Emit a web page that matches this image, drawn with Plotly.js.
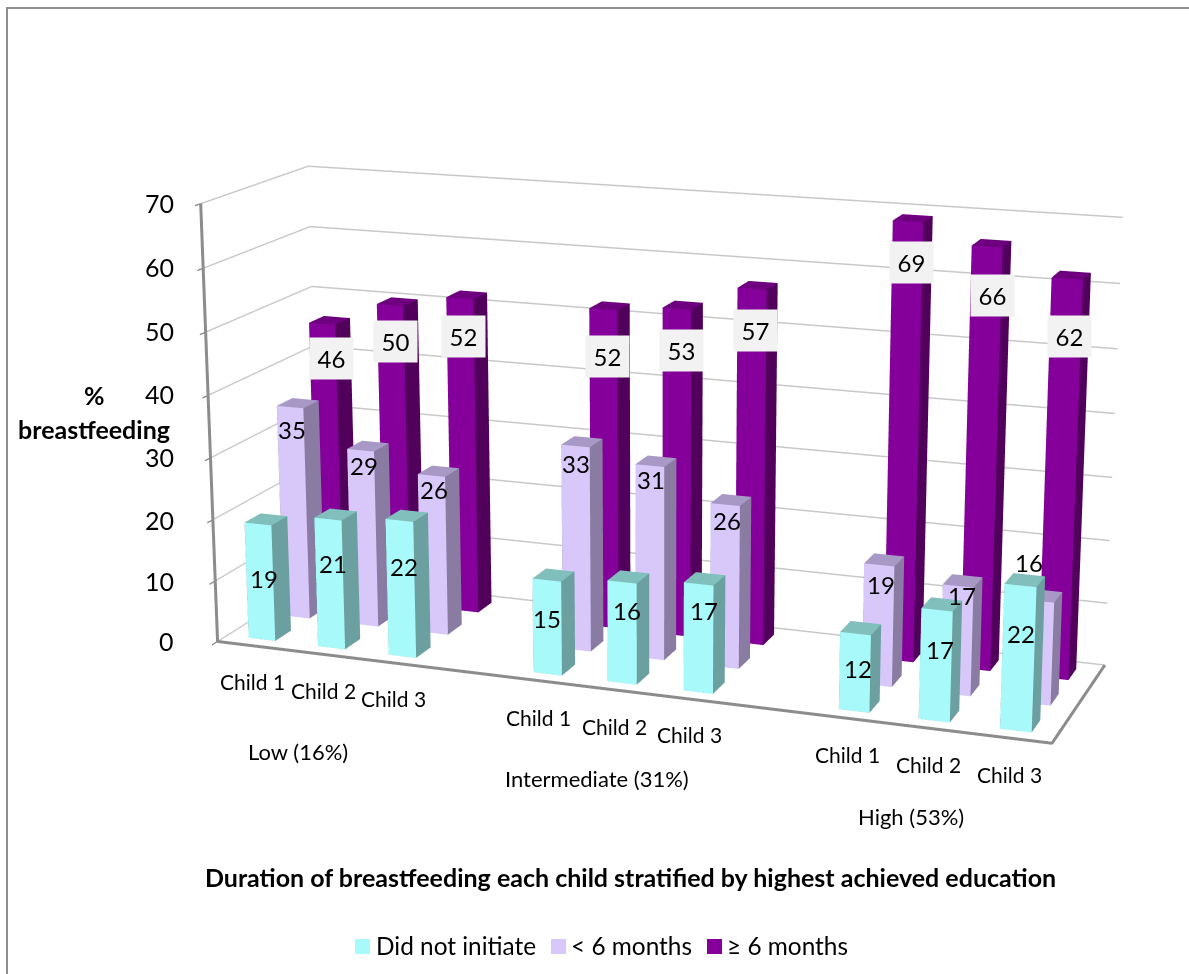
<!DOCTYPE html>
<html>
<head>
<meta charset="utf-8">
<script src="https://cdn.plot.ly/plotly-3.0.1.min.js"></script>
<style>
html, body { margin: 0; padding: 0; width: 1189px; height: 974px; overflow: hidden; background: #fff; }
#stage { position: absolute; }
</style>
</head>
<body>
<div id="stage"></div>
<script>
// Breastfeeding duration per child, grouped by the mother's highest education.
const childLabels = ["Child 1", "Child 2", "Child 3"];
const groupLabels = ["Low (16%)", "Intermediate (31%)", "High (53%)"];
const seriesNames = ["Did not initiate", "< 6 months", "≥ 6 months"];
const didNotInitiate = [19, 21, 22, 15, 16, 17, 12, 17, 22];
const under6Months = [35, 29, 26, 33, 31, 26, 19, 17, 16];
const over6Months = [46, 50, 52, 52, 53, 57, 69, 66, 62];
const zTicks = [0, 10, 20, 30, 40, 50, 60, 70];

// Category slot of each bar: a blank slot separates the education groups.
const slots = [0, 1, 2, 4, 5, 6, 8, 9, 10];
const slotCount = 11, depthCount = 3;
const barWidth = 0.385, barDepth = 0.45;

// Page geometry: the scene is larger than the page for a long lens.
const STAGE = 2500, VIEW_X = 656, VIEW_Y = 436;
const left = VIEW_X - STAGE / 2, top_ = VIEW_Y - STAGE / 2;
const stage = document.getElementById("stage");
stage.style.left = left + "px";
stage.style.top = top_ + "px";
const px = x => (x - left) / STAGE;
const py = y => 1 - (y - top_) / STAGE;

const palette = [
  { front: "#A8FAFA", side: "#6C9FA0", top: "#80BFBC" },
  { front: "#D8C8FA", side: "#8A7BA2", top: "#A898C6" },
  { front: "#85009A", side: "#51005C", top: "#6E0080" }
];

function barMesh(values, depth, colors, name) {
  const xs = [], ys = [], zs = [], i = [], j = [], k = [], facecolor = [];
  values.forEach((v, n) => {
    const x0 = slots[n] + (1 - barWidth) / 2, x1 = x0 + barWidth;
    const y0 = depth + (1 - barDepth) / 2, y1 = y0 + barDepth;
    const b = xs.length;
    [[x0, y0, 0], [x1, y0, 0], [x1, y1, 0], [x0, y1, 0],
     [x0, y0, v], [x1, y0, v], [x1, y1, v], [x0, y1, v]].forEach(p => {
      xs.push(p[0]); ys.push(p[1]); zs.push(p[2]);
    });
    const quad = (a, c, d, e, col) => {
      i.push(b + a, b + a); j.push(b + c, b + d); k.push(b + d, b + e);
      facecolor.push(col, col);
    };
    quad(0, 1, 5, 4, colors.front);
    quad(1, 2, 6, 5, colors.side);
    quad(4, 5, 6, 7, colors.top);
    quad(3, 2, 6, 7, colors.side);
    quad(0, 3, 7, 4, colors.side);
    quad(0, 1, 2, 3, colors.side);
  });
  return {
    type: "mesh3d", name, x: xs, y: ys, z: zs, i, j, k, facecolor,
    flatshading: true, hoverinfo: "skip",
    lighting: { ambient: 1, diffuse: 0, specular: 0, fresnel: 0, roughness: 1 },
    lightposition: { x: 0, y: 0, z: 1000 }
  };
}

const traces = [
  barMesh(didNotInitiate, 0, palette[0], seriesNames[0]),
  barMesh(under6Months, 1, palette[1], seriesNames[1]),
  barMesh(over6Months, 2, palette[2], seriesNames[2]),
  { // front and right floor edges plus the value axis
    type: "scatter3d", mode: "lines", hoverinfo: "skip", showlegend: false,
    x: [0, slotCount, slotCount, null, 0, 0],
    y: [0, 0, depthCount, null, 0, 0],
    z: [0, 0, 0, null, 0, 70],
    line: { color: "#8C8C8C", width: 6 }
  }
];

const textFont = "Lato, Carlito, sans-serif";
const annotations = [];
const place = (x, y, text, size, extra) => annotations.push(Object.assign({
  xref: "paper", yref: "paper", x: px(x), y: py(y), text, showarrow: false,
  xanchor: "center", yanchor: "middle",
  font: { family: textFont, size, color: "#000" }
}, extra || {}));

// Value labels sit where each bar leaves them readable.
const cyanAt = [[264,578],[333,563],[404,566],[547,618],[627,610],[704,610],[858,669],[940,649],[1021,633]];
const lilacAt = [[292,429],[364,465],[434,490],[576,463],[651,480],[727,520],[881,584],[962,595],[1029,562]];
const purpleAt = [[331,358],[395,341],[463,337],[607,356],[681,350],[755,330],[911,262],[992,296],[1069,337]];
didNotInitiate.forEach((v, n) => place(cyanAt[n][0], cyanAt[n][1], String(v), 24));
under6Months.forEach((v, n) => place(lilacAt[n][0], lilacAt[n][1], String(v), 24));
over6Months.forEach((v, n) => place(purpleAt[n][0], purpleAt[n][1], String(v), 24,
  { bgcolor: "#F2F2F2", width: 43, height: 41, borderpad: 0 }));

// Category labels along the front edge.
const childAt = [[252,681],[323,690],[393,698],[538,717],[614,726],[690,734],[847,754],[928,764],[1010,774]];
childAt.forEach((p, n) => place(p[0], p[1], childLabels[n % 3], 21));
const groupAt = [[298,751],[597,778],[911,816]];
groupAt.forEach((p, n) => place(p[0], p[1], groupLabels[n], 22));

// Value axis labels.
const tickAt = [641, 581, 520, 457, 394, 331, 267, 203];
zTicks.forEach((v, n) => place(176, tickAt[n], String(v), 25, { xanchor: "right" }));

place(94, 395, "<b>%</b>", 25);
place(94, 429, "<b>breastfeeding</b>", 25);
place(630, 877, "<b>Duration of breastfeeding each child stratified by highest achieved education</b>", 25);

// Legend row.
const swatches = [355, 551, 707];
const swatchColors = palette.map(p => p.front);
const legendTextX = [374, 569, 725];
const shapes = swatches.map((x, n) => ({
  type: "rect", xref: "paper", yref: "paper", layer: "above",
  x0: px(x), x1: px(x + 15), y0: py(939), y1: py(954),
  fillcolor: swatchColors[n], line: { width: 0 }
}));
seriesNames.forEach((s, n) => place(legendTextX[n], 945, s.replace("<", "&lt;"), 24.4, { xanchor: "left" }));

// Outer chart frame.
shapes.push({
  type: "rect", xref: "paper", yref: "paper", layer: "below",
  x0: px(7), x1: px(1200), y0: py(8), y1: py(1000),
  fillcolor: "rgba(0,0,0,0)", line: { color: "#8E8E8E", width: 2 }
});

const hiddenAxis = {
  title: { text: "" }, showgrid: false, zeroline: false, showticklabels: false,
  showline: false, ticks: "", showbackground: false, showspikes: false
};
const layout = {
  width: STAGE, height: STAGE, margin: { l: 0, r: 0, t: 0, b: 0, pad: 0 },
  paper_bgcolor: "#fff", showlegend: false, annotations, shapes,
  scene: {
    domain: { x: [0, 1], y: [0, 1] },
    bgcolor: "rgba(0,0,0,0)",
    xaxis: Object.assign({}, hiddenAxis, { range: [0, slotCount] }),
    yaxis: Object.assign({}, hiddenAxis, { range: [0, depthCount] }),
    zaxis: Object.assign({}, hiddenAxis, {
      range: [0, 70], tickvals: zTicks, showgrid: true,
      gridcolor: "#C8C8C8", gridwidth: 3,
      ticks: "outside", ticklen: 8, tickwidth: 3, tickcolor: "#8C8C8C"
    }),
    aspectmode: "manual",
    aspectratio: { x: 1.885, y: 0.515, z: 0.985 },
    camera: {
      eye: { x: 2.151, y: -5.911, z: 1.639 },
      center: { x: 0, y: 0, z: 0 },
      up: { x: 0, y: 0, z: 1 },
      projection: { type: "perspective" }
    }
  }
};
Plotly.newPlot(stage, traces, layout, { displayModeBar: false });
</script>
</body>
</html>
